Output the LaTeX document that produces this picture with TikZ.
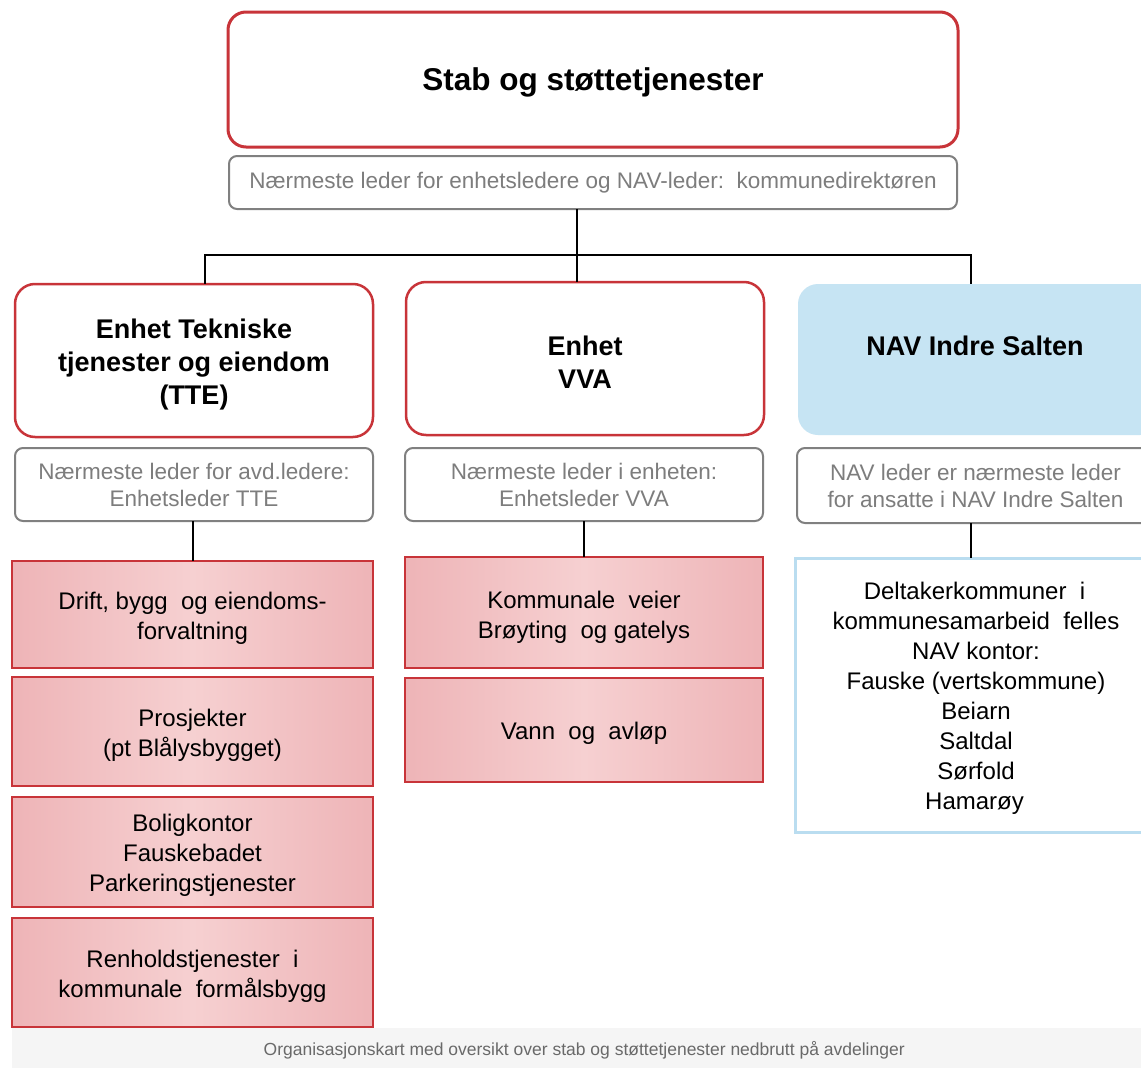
\documentclass[tikz,border=0pt]{standalone}
\usepackage{fontspec}
\setmainfont{Liberation Sans}
\definecolor{redB}{RGB}{200,52,57}
\definecolor{pinkD}{RGB}{238,180,183}
\definecolor{pinkL}{RGB}{246,208,209}
\definecolor{blueF}{RGB}{198,228,243}
\definecolor{blueB}{RGB}{186,221,240}
\definecolor{grayB}{RGB}{128,128,128}
\definecolor{grayT}{RGB}{125,125,125}
\definecolor{capbg}{RGB}{245,245,245}
\definecolor{capT}{RGB}{105,105,105}
\newcommand{\mvdn}[2]{\raisebox{-#1}[\height][\depth]{#2}}
\newcommand{\dn}[1]{\mvdn{3.5pt}{#1}}
\begin{document}
\begin{tikzpicture}[x=1pt,y=-1pt,
  box/.style={draw,align=center,inner sep=0pt,outer sep=0pt},
  mainbox/.style={box,draw=redB,line width=3pt,rounded corners=18pt,fill=white,
     font=\fontsize{31.5}{36}\selectfont\bfseries},
  unitbox/.style={box,draw=redB,line width=2.5pt,rounded corners=20pt,fill=white,
     font=\fontsize{27}{33}\selectfont\bfseries},
  navbox/.style={box,draw=none,rounded corners=20pt,fill=blueF,
     font=\fontsize{27}{33}\selectfont\bfseries},
  leadbox/.style={box,draw=grayB,line width=2pt,rounded corners=8pt,fill=white,text=grayT,
     font=\fontsize{22.5}{27}\selectfont},
  deptbox/.style={box,draw=redB,line width=2pt,left color=pinkD,right color=pinkD,middle color=pinkL,
     font=\fontsize{24}{30}\selectfont},
  listbox/.style={box,draw=blueB,line width=3pt,fill=white,
     font=\fontsize{24}{30}\selectfont},
  conn/.style={draw=black,line width=2pt}
]
\useasboundingbox (0,0) rectangle (1141,1068);
\fill[white] (0,0) rectangle (1141,1068);

% top
\node[mainbox,minimum width=730pt,minimum height=135pt] (top) at (593,79.5) {\mvdn{2.5pt}{Stab og støttetjenester}};
\node[leadbox,minimum width=728pt,minimum height=53pt] (topg) at (593,182.5) {Nærmeste leder for enhetsledere og NAV-leder:\ \ kommunedirektøren};

% units
\node[unitbox,minimum width=358pt,minimum height=153pt] (tte) at (194,360.5) {\mvdn{4.5pt}{Enhet Tekniske}\\\mvdn{4.5pt}{tjenester og eiendom}\\\mvdn{4.5pt}{(TTE)}};
\node[unitbox,minimum width=358pt,minimum height=153pt] (vva) at (585,358.5) {\dn{Enhet}\\\dn{VVA}};
\node[navbox,minimum width=362pt,minimum height=151pt] (nav) at (979,359.5) {\hspace*{-4pt}\raisebox{14pt}[\height][\depth]{NAV Indre Salten}\hspace*{4pt}};

% leaders
\node[leadbox,minimum width=358pt,minimum height=73pt] (tteg) at (194,484.5) {Nærmeste leder for avd.ledere:\\Enhetsleder TTE};
\node[leadbox,minimum width=358pt,minimum height=73pt] (vvag) at (584,484.5) {Nærmeste leder i enheten:\\Enhetsleder VVA};
\node[leadbox,minimum width=363pt,minimum height=75pt] (navg) at (978.5,485.5) {\hspace*{-3pt}NAV leder er nærmeste leder\hspace*{3pt}\\\hspace*{-3pt}for ansatte i NAV Indre Salten\hspace*{3pt}};

% departments
\node[deptbox,minimum width=361pt,minimum height=107pt] (r1) at (192.5,614.5) {\mvdn{4pt}{Drift, bygg\ \ og eiendoms-}\\\mvdn{4pt}{forvaltning}};
\node[deptbox,minimum width=361pt,minimum height=109pt] (r2) at (192.5,731.5) {\dn{Prosjekter}\\\dn{(pt Blålysbygget)}};
\node[deptbox,minimum width=361pt,minimum height=110pt] (r3) at (192.5,852) {\dn{Boligkontor}\\\dn{Fauskebadet}\\\dn{Parkeringstjenester}};
\node[deptbox,minimum width=361pt,minimum height=109pt] (r4) at (192.5,972.5) {\dn{Renholdstjenester\ \ i}\\\dn{kommunale\ \ formålsbygg}};
\node[deptbox,minimum width=358pt,minimum height=111pt] (m1) at (584,612.5) {\mvdn{4.5pt}{Kommunale\ \ veier}\\\mvdn{4.5pt}{Brøyting\ \ og gatelys}};
\node[deptbox,minimum width=358pt,minimum height=104pt] (m2) at (584,730) {\dn{Vann\ \ og\ \ avløp}};
\node[listbox,minimum width=365pt,minimum height=274pt] (navl) at (977.5,695) {\hspace*{-3pt}\dn{Deltakerkommuner\ \ i}\hspace*{3pt}\\\hspace*{-3pt}\dn{kommunesamarbeid\ \ felles}\hspace*{3pt}\\\hspace*{-3pt}\dn{NAV kontor:}\hspace*{3pt}\\\hspace*{-3pt}\dn{Fauske (vertskommune)}\hspace*{3pt}\\\hspace*{-3pt}\dn{Beiarn}\hspace*{3pt}\\\hspace*{-3pt}\dn{Saltdal}\hspace*{3pt}\\\hspace*{-3pt}\dn{Sørfold}\hspace*{3pt}\\\hspace*{-3pt}\dn{Hamarøy}\hspace*{3pt}};

% connectors
\coordinate (bus) at (577,255);
\coordinate (busL) at (205,255);
\coordinate (busR) at (971,255);
\coordinate (navdrop) at (971,540);
\draw[conn] (topg.south -| bus) -- (bus);
\draw[conn,line cap=rect] (busL) -- (busR);
\draw[conn] (busL) -- (busL |- tte.north);
\draw[conn] (bus) -- (bus |- vva.north);
\draw[conn] (busR) -- (busR |- nav.north);
\draw[conn] (tteg.south -| 193,0) -- (r1.north -| 193,0);
\draw[conn] (vvag.south) -- (m1.north);
\draw[conn] (navg.south -| navdrop) -- (navl.north -| navdrop);

% caption
\node[fill=capbg,minimum width=1150pt,minimum height=40pt,inner sep=0pt,anchor=north west,text=capT,
  font=\fontsize{17.5}{20}\selectfont] (cap) at (12,1028) {\hspace*{-6pt}\mvdn{2pt}{Organisasjonskart med oversikt over stab og støttetjenester nedbrutt på avdelinger}};
\end{tikzpicture}
\end{document}
